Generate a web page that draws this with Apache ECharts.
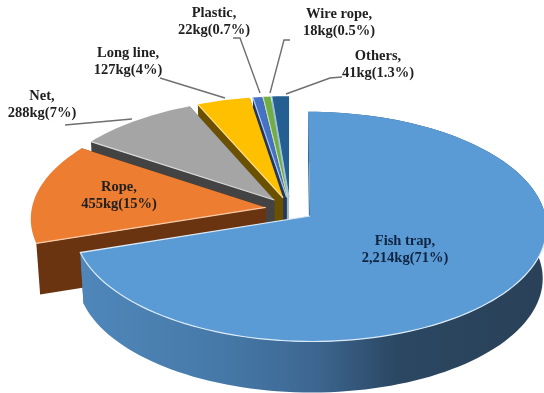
<!DOCTYPE html>
<html>
<head>
<meta charset="utf-8">
<style>html,body{margin:0;padding:0;background:#fff}#chart{width:544px;height:393px}</style>
<script src="https://cdn.jsdelivr.net/npm/echarts@6/dist/echarts.min.js"></script>
</head>
<body>
<div id="chart"></div>
<script>
// Marine debris by gear type, clockwise from twelve o'clock
const categories = ['Fish trap', 'Rope', 'Net', 'Long line', 'Plastic', 'Wire rope', 'Others'];
const weights = [2214, 455, 288, 127, 22, 18, 41];
const labelTexts = [
  'Fish trap,\n2,214kg(71%)', 'Rope,\n455kg(15%)', 'Net,\n288kg(7%)', 'Long line,\n127kg(4%)',
  'Plastic,\n22kg(0.7%)', 'Wire rope,\n18kg(0.5%)', 'Others,\n41kg(1.3%)'
];
const topColors = ['#5b9bd5', '#ed7d31', '#a5a5a5', '#ffc000', '#4472c4', '#70ad47', '#255e91'];
const wallColors = ['#3f6f9b', '#6b3410', '#434343', '#6b5000', '#1f3864', '#a9bba0', '#a8bccd'];
const edgeColors = ['#dcebf8', '#f8cba8', '#d9d9d9', '#ffe08a', '#b4c7e7', '#c5e0b4', '#9dc3e6'];

// Label anchors and leader polylines, in page pixels
const labelAnchors = [[405, 250], [119, 196], [42, 105], [128, 62], [214, 22], [339, 23], [378, 65]];
const leaders = [
  null, null,
  [[65, 125], [132, 119]],
  [[160, 78], [225, 98]],
  [[233, 38], [240, 38], [260, 93]],
  [[290, 40], [284, 40], [270, 93]],
  [[342, 77], [330, 78], [286, 94]]
];

// Projection of the tilted disc
const view = { cx: 290, cy: 209, R: 234, k: 0.481, persp: 0.0925, depth: 51, shrink: 0.015, explode: 0.105 };

function project(X, Y, Z) {
  const s = 1 / (1 - view.persp * Y);
  return [
    view.cx + view.R * X * s * (1 - view.shrink * Z),
    view.cy + view.R * view.k * Y * s + view.depth * Z
  ];
}

const total = weights.reduce((a, b) => a + b, 0);
const sectors = [];
let running = 0;
weights.forEach((w, i) => {
  const start = running / total * Math.PI * 2;
  running += w;
  sectors.push({ index: i, start, end: running / total * Math.PI * 2 });
});

function sectorShapes(sec) {
  const mid = (sec.start + sec.end) / 2;
  const ox = Math.sin(mid) * view.explode;
  const oy = -Math.cos(mid) * view.explode;
  const steps = Math.max(2, Math.ceil((sec.end - sec.start) / (Math.PI / 90)));
  const topArc = [], lowArc = [], frontArc = [];
  for (let j = 0; j <= steps; j++) {
    const a = sec.start + (sec.end - sec.start) * j / steps;
    const X = ox + Math.sin(a), Y = oy - Math.cos(a);
    const p = project(X, Y, 0);
    topArc.push(p);
    lowArc.push(project(X, Y, 1));
    if (Y > oy) frontArc.push(p);
  }
  return { topArc, lowArc, frontArc, apexTop: project(ox, oy, 0), apexLow: project(ox, oy, 1) };
}

function renderSector(params, api) {
  const i = api.value(0);
  const g = sectorShapes(sectors[i]);
  const wall = wallColors[i];
  // Highlight runs along the edges that face the viewer
  const highlight = i === 0
    ? g.frontArc.concat([g.apexTop])
    : [g.apexTop, g.topArc[0]];
  const last = g.topArc.length - 1;
  const children = [
    { type: 'polygon', shape: { points: [g.apexTop, g.topArc[0], g.lowArc[0], g.apexLow] }, style: { fill: wall } },
    { type: 'polygon', shape: { points: [g.apexTop, g.topArc[last], g.lowArc[last], g.apexLow] }, style: { fill: wall } }
  ];
  // Only the large slice shows a curved outer wall
  if (i === 0) {
    children.push({
      type: 'polygon',
      shape: { points: g.topArc.concat(g.lowArc.slice().reverse()) },
      style: {
        fill: new echarts.graphic.LinearGradient(0, 0, 1, 0, [
          { offset: 0, color: '#4f87bb' },
          { offset: 0.3, color: '#4679a8' },
          { offset: 0.5, color: '#3d6792' },
          { offset: 0.68, color: '#2b4762' },
          { offset: 1, color: '#2a4158' }
        ])
      }
    });
  }
  children.push(
    { type: 'polygon', shape: { points: [g.apexTop].concat(g.topArc) }, style: { fill: topColors[i] } },
    { type: 'polyline', shape: { points: highlight }, style: { stroke: edgeColors[i], lineWidth: 1.2, fill: null } }
  );
  return { type: 'group', children };
}

function renderAnnotation(params, api) {
  const i = api.value(0);
  const children = [];
  if (leaders[i]) {
    children.push({
      type: 'polyline',
      shape: { points: leaders[i] },
      style: { stroke: '#6f6f6f', lineWidth: 1.4, fill: null }
    });
  }
  children.push({
    type: 'text',
    x: labelAnchors[i][0],
    y: labelAnchors[i][1],
    style: {
      text: labelTexts[i],
      fill: i === 0 ? '#0f2440' : '#1f1f1f',
      font: 'bold 14.5px "Liberation Serif", serif',
      lineHeight: 17,
      align: 'center',
      verticalAlign: 'middle'
    }
  });
  return { type: 'group', children };
}

// Back slices first so the nearer ones paint over their walls
const paintOrder = [6, 5, 4, 3, 2, 1, 0];

const chart = echarts.init(document.getElementById('chart'), null, { renderer: 'canvas' });
chart.setOption({
  animation: false,
  backgroundColor: '#ffffff',
  series: [
    {
      type: 'custom',
      name: 'Weight',
      coordinateSystem: 'none',
      renderItem: renderSector,
      data: paintOrder.map(i => ({ name: categories[i], value: [i, weights[i]] })),
      z: 1
    },
    {
      type: 'custom',
      name: 'Labels',
      coordinateSystem: 'none',
      renderItem: renderAnnotation,
      data: paintOrder.map(i => ({ name: categories[i], value: [i, weights[i]] })),
      z: 2
    }
  ]
});
</script>
</body>
</html>
